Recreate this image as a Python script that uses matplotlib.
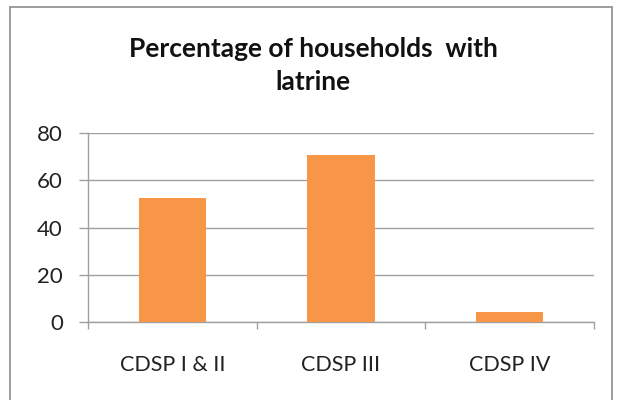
import matplotlib.pyplot as plt
from matplotlib.patches import Rectangle

categories = ["CDSP I & II", "CDSP III", "CDSP IV"]
values = [52.5, 70.7, 4.4]
yticks = [0, 20, 40, 60, 80]
title_lines = ["Percentage of households  with", "latrine"]

plt.rcParams["font.family"] = ["Lato", "DejaVu Sans"]

fig = plt.figure(figsize=(6.23, 4), dpi=100)
ax = fig.add_axes([88 / 623, 1 - 322 / 400, (594 - 88) / 623, (322 - 133) / 400])

# outer chart frame
fig.patches.append(Rectangle((10 / 623, -0.05), (612 - 10) / 623, 1 - 7 / 400 + 0.05,
                             transform=fig.transFigure, fill=False,
                             edgecolor="#8c8c8c", linewidth=1.2))

x = range(len(categories))
ax.bar(x, values, width=0.4, color="#F79646", zorder=3)

ax.set_xlim(-0.5, 2.5)
ax.set_ylim(0, 80)
ax.set_yticks(yticks)
ax.set_xticks(list(x))
ax.set_xticklabels(categories)
ax.set_xticks([-0.5, 0.5, 1.5, 2.5], minor=True)
ax.tick_params(axis="x", which="major", length=0, pad=24, labelsize=15.5, colors="#222222")
ax.tick_params(axis="x", which="minor", length=5, color="#a0a0a0", width=1)
ax.tick_params(axis="y", length=6.5, color="#a0a0a0", width=1, labelsize=16, colors="#222222", pad=11.5)

ax.grid(axis="y", color="#a0a0a0", linewidth=1, zorder=0)
for side in ["top", "right"]:
    ax.spines[side].set_visible(False)
ax.spines["left"].set_color("#a0a0a0")
ax.spines["bottom"].set_color("#a0a0a0")
ax.spines["left"].set_linewidth(1)
ax.spines["bottom"].set_linewidth(1)

# title, two lines placed on their baselines
for line, base in zip(title_lines, [57, 90]):
    fig.text(313 / 623, 1 - base / 400, line, ha="center", va="baseline",
             fontsize=19, fontweight="bold", color="#111111")

fig.savefig("out.png", dpi=100)
